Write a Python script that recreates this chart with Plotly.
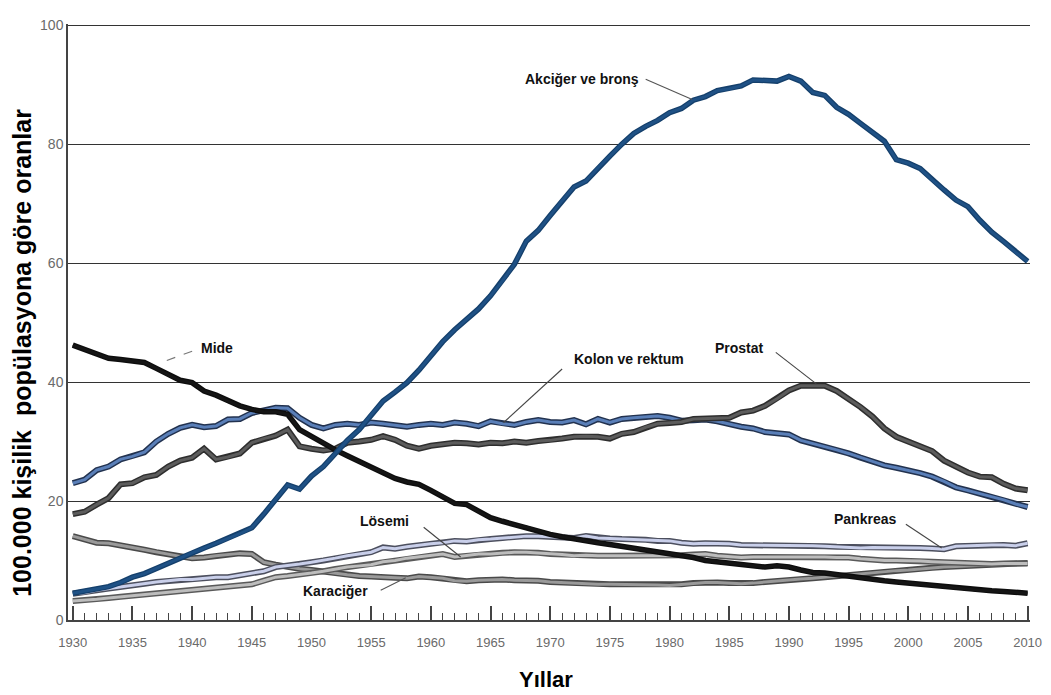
import plotly.graph_objects as go

YEARS = list(range(1930, 2011))

akciger = [4.5, 4.9, 5.3, 5.6, 6.3, 7.2, 7.8, 8.7, 9.6, 10.4,
           11.3, 12.1, 12.9, 13.7, 14.5, 15.5, 17.8, 20.3, 22.7, 22.0,
           24.2, 25.8, 28.0, 30.2, 32.0, 34.5, 36.8, 38.3, 39.9, 42.0,
           44.5, 46.8, 48.8, 50.5, 52.3, 54.5, 57.0, 59.8, 63.7, 65.5,
           68.0, 70.5, 72.8, 73.8, 76.0, 78.0, 80.0, 81.8, 83.0, 84.0,
           85.3, 86.0, 87.4, 88.0, 89.0, 89.3, 89.8, 90.8, 90.7, 90.6,
           91.4, 90.6, 88.7, 88.2, 86.2, 85.0, 83.5, 82.0, 80.5, 77.4,
           76.8, 75.9, 74.0, 72.3, 70.6, 69.5, 67.2, 65.2, 63.6, 61.8, 60.3]

mide = [46.2, 45.5, 44.8, 44.0, 43.8, 43.6, 43.3, 42.3, 41.2, 40.3,
        39.9, 38.5, 37.8, 36.8, 36.0, 35.4, 35.0, 35.0, 34.6, 32.0,
        30.8, 29.8, 28.6, 27.6, 26.6, 25.6, 24.8, 23.8, 23.2, 22.8,
        21.8, 20.8, 19.6, 19.4, 18.2, 17.2, 16.6, 16.0, 15.6, 15.0,
        14.4, 14.0, 13.6, 13.3, 13.0, 12.7, 12.4, 12.0, 11.7, 11.4,
        11.1, 10.8, 10.5, 10.0, 9.8, 9.6, 9.4, 9.1, 8.9, 9.1,
        8.9, 8.4, 8.0, 7.9, 7.6, 7.4, 7.1, 6.8, 6.6, 6.4,
        6.2, 5.9, 5.7, 5.5, 5.4, 5.2, 5.0, 4.9, 4.8, 4.6, 4.5]

kolon = [23.0, 23.6, 25.2, 25.8, 27.0, 27.5, 28.2, 30.0, 31.3, 32.3,
         32.8, 32.4, 32.6, 33.7, 33.8, 34.8, 35.2, 35.7, 35.6, 34.0,
         32.8, 32.2, 32.8, 33.0, 32.8, 33.2, 33.0, 32.8, 32.5, 32.8,
         33.0, 32.8, 33.2, 33.0, 32.6, 33.4, 33.0, 32.8, 33.3, 33.6,
         33.3, 33.2, 33.6, 32.9, 33.8, 33.2, 33.8, 34.0, 34.2, 34.3,
         34.0, 33.5, 33.6, 33.7, 33.4, 32.9, 32.5, 32.2, 31.6, 31.4,
         31.2, 30.2, 29.7, 29.2, 28.6, 28.0, 27.3, 26.6, 26.0, 25.6,
         25.2, 24.7, 24.1, 23.3, 22.3, 21.8, 21.2, 20.7, 20.2, 19.5, 19.0]

prostat = [17.8, 18.2, 19.4, 20.5, 22.8, 23.0, 24.0, 24.4, 25.8, 26.8,
           27.3, 28.8, 27.0, 27.4, 28.0, 29.8, 30.5, 31.0, 32.0, 29.2,
           28.8, 28.5, 28.8, 29.8, 30.0, 30.3, 30.9, 30.3, 29.3, 28.8,
           29.3, 29.6, 29.8, 29.7, 29.5, 29.8, 29.7, 30.0, 29.8, 30.1,
           30.2, 30.5, 30.8, 30.9, 30.8, 30.5, 31.3, 31.6, 32.4, 33.0,
           33.1, 33.3, 33.8, 33.9, 33.9, 34.0, 34.9, 35.2, 36.0, 37.2,
           38.6, 39.4, 39.4, 39.4, 38.5, 37.2, 35.8, 34.2, 32.2, 30.8,
           30.0, 29.2, 28.4, 26.8, 25.8, 24.8, 24.1, 24.0, 22.9, 22.1, 21.8]

pankreas = [4.4, 4.6, 5.0, 5.3, 5.5, 5.8, 6.1, 6.4, 6.6, 6.8,
            6.8, 7.0, 7.2, 7.2, 7.5, 7.8, 8.2, 8.9, 9.1, 9.4,
            9.7, 10.0, 10.4, 10.8, 11.1, 11.4, 12.2, 12.0, 12.3, 12.6,
            12.8, 13.0, 13.3, 13.2, 13.5, 13.6, 13.8, 14.0, 14.1, 14.1,
            14.0, 13.8, 13.8, 14.1, 13.8, 13.7, 13.6, 13.6, 13.5, 13.3,
            13.3, 13.0, 12.8, 12.9, 12.9, 12.8, 12.6, 12.6, 12.5, 12.6,
            12.6, 12.5, 12.5, 12.4, 12.3, 12.3, 12.1, 12.2, 12.2, 12.2,
            12.2, 12.1, 12.0, 11.9, 12.4, 12.5, 12.5, 12.6, 12.6, 12.5, 12.9]

losemi = [3.2, 3.3, 3.5, 3.7, 3.9, 4.1, 4.3, 4.5, 4.7, 4.9,
          5.1, 5.2, 5.4, 5.6, 5.8, 6.0, 6.6, 7.2, 7.4, 7.6,
          7.9, 8.2, 8.6, 8.9, 9.1, 9.3, 9.8, 10.0, 10.4, 10.6,
          10.9, 11.1, 10.6, 10.8, 11.1, 11.1, 11.3, 11.4, 11.4, 11.3,
          11.1, 11.0, 10.8, 10.9, 10.8, 10.8, 10.8, 10.8, 10.7, 10.8,
          10.8, 10.9, 11.0, 11.1, 10.8, 10.6, 10.5, 10.6, 10.6, 10.6,
          10.6, 10.6, 10.7, 10.6, 10.5, 10.5, 10.3, 10.1, 10.0, 10.0,
          10.0, 9.9, 9.8, 9.7, 9.6, 9.5, 9.4, 9.4, 9.5, 9.5, 9.5]

karaciger = [14.1, 13.5, 13.0, 12.9, 12.6, 12.2, 11.8, 11.4, 11.0, 10.7,
             10.4, 10.5, 10.8, 11.0, 11.2, 11.1, 9.7, 9.3, 8.9, 8.6,
             8.4, 8.1, 7.8, 7.6, 7.4, 7.3, 7.1, 7.1, 7.0, 7.3,
             7.2, 7.0, 6.6, 6.5, 6.7, 6.8, 6.8, 6.7, 6.7, 6.6,
             6.4, 6.3, 6.1, 6.0, 6.0, 6.0, 6.0, 6.0, 6.0, 5.9,
             5.8, 6.0, 6.2, 6.3, 6.3, 6.2, 6.1, 6.2, 6.4, 6.5,
             6.7, 6.9, 7.0, 7.2, 7.4, 7.5, 7.7, 7.9, 8.1, 8.3,
             8.4, 8.6, 8.8, 8.9, 9.0, 9.1, 9.2, 9.3, 9.4, 9.5, 9.6]

Y_TICKS = [0, 20, 40, 60, 80, 100]
X_TICKS = list(range(1930, 2011, 5))

# series: (name, values, outer colour, outer width, inner colour, inner width)
series = [
    ("Karaciğer", karaciger, "#4a4a4a", 6, "#9a9a9a", 3),
    ("Lösemi", losemi, "#5a5a5a", 6, "#bdbdbd", 3),
    ("Pankreas", pankreas, "#4c4f5e", 6, "#c9cfea", 3),
    ("Kolon ve rektum", kolon, "#22324f", 6, "#5a7fb8", 3),
    ("Prostat", prostat, "#2e2e2e", 6, "#5c5c5c", 3),
    ("Mide", mide, "#0d0d0d", 5.5, "#151515", 3),
    ("Akciğer ve bronş", akciger, "#143f6b", 5.5, "#1f5185", 3),
]

fig = go.Figure()
for name, vals, oc, ow, ic, iw in series:
    fig.add_trace(go.Scatter(x=YEARS, y=vals, mode="lines", name=name,
                             line=dict(color=oc, width=ow), hoverinfo="skip",
                             showlegend=False))
    fig.add_trace(go.Scatter(x=YEARS, y=vals, mode="lines", name=name,
                             line=dict(color=ic, width=iw), hoverinfo="skip",
                             showlegend=False))

label_font = dict(family="Liberation Sans, Arial", size=14, color="#111",
                  weight="bold")
# (text, text x, text y, pointer start x, y, pointer end x, y, dash, colour)
labels = [
    ("Akciğer ve bronş", 1972.7, 90.9, 1978.0, 90.9, 1981.9, 87.5, "solid", "#555"),
    ("Mide", 1942.1, 45.8, 1940.0, 45.2, 1937.3, 43.2, "dash", "#777"),
    ("Kolon ve rektum", 1976.6, 43.9, 1971.0, 42.2, 1966.1, 33.2, "solid", "#444"),
    ("Prostat", 1985.9, 45.7, 1988.9, 45.0, 1992.3, 39.7, "solid", "#444"),
    ("Pankreas", 1996.4, 16.9, 1999.8, 16.1, 2002.8, 12.1, "solid", "#444"),
    ("Lösemi", 1956.1, 16.6, 1959.4, 15.6, 1962.5, 10.6, "solid", "#444"),
    ("Karaciğer", 1952.0, 4.9, 1955.8, 5.0, 1957.9, 7.1, "solid", "#555"),
]
for t, tx, ty, x0, y0, x1, y1, dash, lc in labels:
    fig.add_annotation(x=tx, y=ty, xref="x", yref="y", text=t, showarrow=False,
                       font=label_font)
    fig.add_shape(type="line", xref="x", yref="y", x0=x0, y0=y0, x1=x1, y1=y1,
                  line=dict(color=lc, width=1.1, dash=dash))

fig.add_annotation(xref="paper", yref="paper", x=-0.0477, y=0.4485,
                   xanchor="center", yanchor="middle",
                   text="100.000 kişilik\u00a0 popülasyona göre oranlar",
                   textangle=-90, showarrow=False,
                   font=dict(family="Liberation Sans, Arial", size=25, color="#000",
                             weight="bold"))
fig.add_annotation(xref="paper", yref="paper", x=0.497, y=-0.100,
                   xanchor="center", yanchor="middle",
                   text="Yıllar", showarrow=False,
                   font=dict(family="Liberation Sans, Arial", size=22, color="#000",
                             weight="bold"))

# page body adds an 8px offset, so the figure is shifted back by that amount
fig.update_layout(
    width=1043, height=687,
    margin=dict(l=60, r=19, t=9, b=75),
    paper_bgcolor="white", plot_bgcolor="white",
    showlegend=False,
)
fig.update_xaxes(range=[1929.6, 2010.2], tickmode="array", tickvals=X_TICKS,
                 ticktext=[str(v) for v in X_TICKS],
                 ticks="inside", ticklen=14, tickwidth=1.5, tickcolor="#444",
                 minor=dict(dtick=1, tick0=1930, ticks="inside", ticklen=7,
                            tickwidth=1.2, tickcolor="#444", showgrid=False),
                 showline=True, linecolor="#444", linewidth=1.5,
                 showgrid=False, zeroline=False, ticklabelstandoff=10,
                 tickfont=dict(family="Liberation Sans, Arial",
                               size=13, color="#6a6a6a"))
fig.update_yaxes(range=[0, 100.2], tickmode="array", tickvals=Y_TICKS,
                 ticks="", showline=True, linecolor="#444", linewidth=1.5,
                 showgrid=True, gridcolor="#333", gridwidth=1.2, zeroline=False,
                 tickfont=dict(family="Liberation Sans, Arial", size=14,
                               color="#6a6a6a"))

fig.write_html("out.html")
